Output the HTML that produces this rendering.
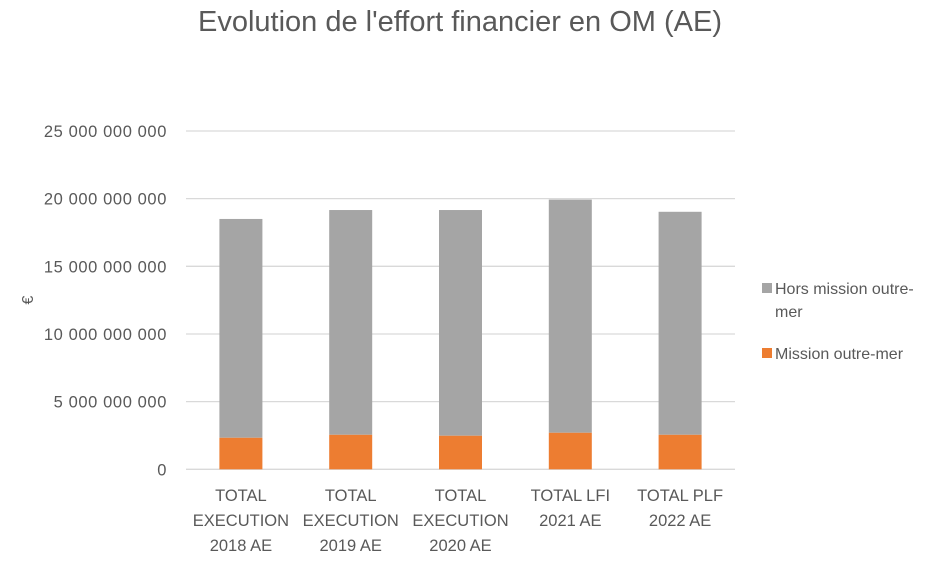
<!DOCTYPE html>
<html><head><meta charset="utf-8"><style>
body{margin:0;background:#fff;}
svg text{font-family:"Liberation Sans",sans-serif;fill:#595959;}
</style></head><body>
<svg id="chart" width="926" height="559">
<text x="460" y="31" text-anchor="middle" font-size="29">Evolution de l'effort financier en OM (AE)</text>
<text transform="translate(33,300) rotate(-90)" text-anchor="middle" font-size="16">€</text>
<g id="grid"></g><g id="bars"></g><g id="xlabels"></g>
<rect x="762" y="283" width="10" height="10" fill="#a5a5a5"/>
<text x="775" y="294" font-size="16">Hors mission outre-</text>
<text x="775" y="317" font-size="16">mer</text>
<rect x="762" y="348" width="10" height="10" fill="#ed7d31"/>
<text x="775" y="359" font-size="16">Mission outre-mer</text>
</svg>
<script>
const categories=[["TOTAL","EXECUTION","2018 AE"],["TOTAL","EXECUTION","2019 AE"],["TOTAL","EXECUTION","2020 AE"],["TOTAL LFI","2021 AE"],["TOTAL PLF","2022 AE"]];
const missionOM=[2.33e9,2.55e9,2.48e9,2.70e9,2.55e9];
const totals=[18.5e9,19.16e9,19.16e9,19.93e9,19.03e9];
const ticks=[0,5e9,10e9,15e9,20e9,25e9];
const tickLabels=["0","5 000 000 000","10 000 000 000","15 000 000 000","20 000 000 000","25 000 000 000"];
const NS="http://www.w3.org/2000/svg";
const x0=186,x1=735,y0=469.3,y1=131;
const yS=v=>y0-(v/25e9)*(y0-y1);
const band=(x1-x0)/categories.length;
const xC=i=>x0+band*(i+0.5);
function mk(t,a,p){const e=document.createElementNS(NS,t);for(const k in a)e.setAttribute(k,a[k]);p.appendChild(e);return e;}
const g=document.getElementById('grid');
ticks.forEach((t,i)=>{
 const l=mk('line',{x1:x0,x2:x1,y1:yS(t),y2:yS(t),stroke:'#d9d9d9','stroke-width':1.3},g);
 
 
 const tx=mk('text',{x:167,y:yS(t)+6,'text-anchor':'end','font-size':16.5,'letter-spacing':'0.6'},g);
 tx.textContent=tickLabels[i];
 
 
});
const b=document.getElementById('bars');const xl=document.getElementById('xlabels');
const bw=43;
categories.forEach((c,i)=>{
 const hors=totals[i]-missionOM[i];
 const r1=mk('rect',{x:xC(i)-bw/2,y:yS(missionOM[i]+hors),width:bw,height:yS(missionOM[i])-yS(missionOM[i]+hors),fill:'#a5a5a5'},b);
 
 
 const r2=mk('rect',{x:xC(i)-bw/2,y:yS(missionOM[i]),width:bw,height:yS(0)-yS(missionOM[i]),fill:'#ed7d31'},b);
 
 
 c.forEach((s,j)=>{
  const t=mk('text',{x:xC(i),y:501+j*25,'text-anchor':'middle','font-size':16.5},xl);
  t.textContent=s;
  
  
 });
});
</script>
</body></html>
